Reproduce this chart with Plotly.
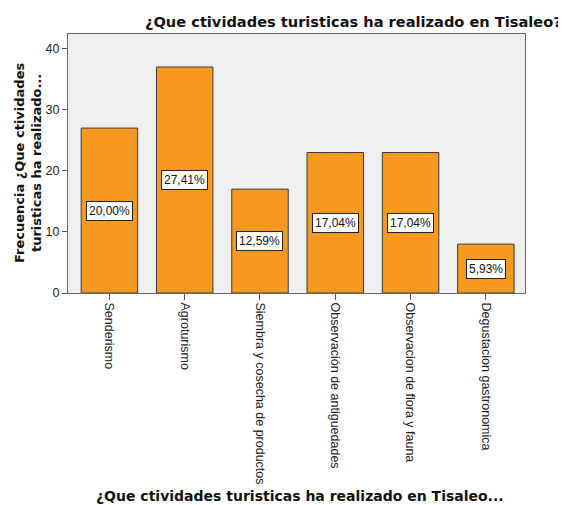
import plotly.graph_objects as go

categories = ["Senderismo", "Agroturismo", "Siembra y cosecha de productos",
              "Observación de antiguedades", "Observacion de flora y fauna",
              "Degustacion gastronomica"]
counts = [27, 37, 17, 23, 23, 8]
pct_labels = ["20,00%", "27,41%", "12,59%", "17,04%", "17,04%", "5,93%"]
y_ticks = [0, 10, 20, 30, 40]

# page body has an 8px margin, so figure is placed at (8, 8)
OFF = 8
W, H = 566 - OFF, 505 - OFF
L, R, T, B = 68 - OFF, 41, 34 - OFF, 212
PW, PH = W - L - R, H - T - B


def px_x(x):
    return (x - OFF - L) / PW


def px_y(y):
    return (H - B - (y - OFF)) / PH


fig = go.Figure()
fig.add_trace(go.Bar(
    x=list(range(len(categories))), y=counts,
    marker=dict(color="#F7991F", line=dict(color="#3A3A3A", width=1)),
    width=0.75, hoverinfo="skip"))

for i, (c, p) in enumerate(zip(counts, pct_labels)):
    fig.add_annotation(x=i, y=c / 2, xref="x", yref="y", text=p, showarrow=False,
                       font=dict(family="Liberation Sans, Arial", size=12, color="#111"),
                       bgcolor="white", bordercolor="#222", borderwidth=1, borderpad=2)

TF = "DejaVu Sans, Verdana"
fig.add_annotation(xref="paper", yref="paper", x=px_x(564), xanchor="right", y=px_y(21),
                   yanchor="middle",
                   text="<b>¿Que ctividades turisticas ha realizado en Tisaleo?</b>",
                   showarrow=False, font=dict(family=TF, size=14.6, color="#111"))
fig.add_annotation(xref="paper", yref="paper", x=px_x(300), xanchor="center", y=px_y(496),
                   text="<b>¿Que ctividades turisticas ha realizado en Tisaleo...</b>",
                   showarrow=False, font=dict(family=TF, size=14, color="#111"), yanchor="middle")
fig.add_annotation(xref="paper", yref="paper", x=px_x(28), xanchor="center",
                   y=px_y(163), yanchor="middle",
                   text="<b>Frecuencia ¿Que ctividades<br>turisticas ha realizado...</b>",
                   showarrow=False, textangle=-90,
                   font=dict(family=TF, size=13, color="#111"))

fig.update_layout(
    width=W, height=H, margin=dict(l=L, r=R, t=T, b=B, autoexpand=False),
    paper_bgcolor="white", plot_bgcolor="#EFEFEF", showlegend=False,
    xaxis=dict(tickmode="array", tickvals=list(range(len(categories))), ticktext=categories,
               tickangle=90, range=[-0.55, 5.52], ticks="outside", ticklen=6,
               tickcolor="#555", showgrid=False, zeroline=False, showline=True,
               linecolor="#666", linewidth=1, mirror=True,
               tickfont=dict(family="Liberation Sans, Arial", size=12.5, color="#222")),
    yaxis=dict(range=[0, 42.4], tickvals=y_ticks, ticks="outside", ticklen=5,
               tickcolor="#555", showgrid=False, zeroline=False, showline=True,
               linecolor="#666", linewidth=1, mirror=True,
               tickfont=dict(family="Liberation Sans, Arial", size=12.5, color="#222")),
)
fig.write_html("out.html")
